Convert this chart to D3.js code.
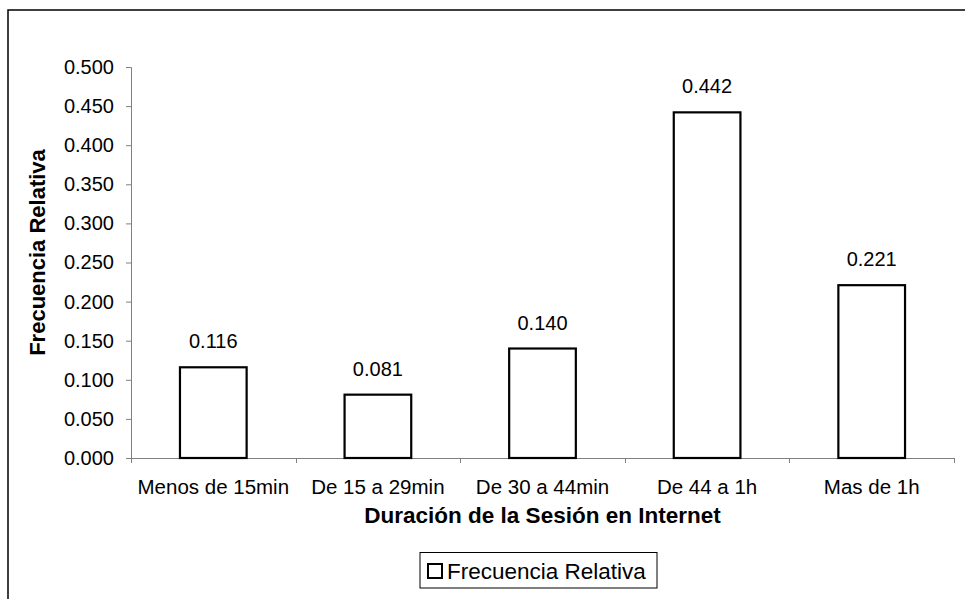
<!DOCTYPE html>
<html><head><meta charset="utf-8">
<script src="https://cdn.jsdelivr.net/npm/d3@7"></script>
<style>body{margin:0;background:#fff}svg{display:block;font-family:"Liberation Sans",Arial,sans-serif}</style>
</head><body>
<svg id="c" width="965" height="599"></svg>
<script>
const categories = ["Menos de 15min","De 15 a 29min","De 30 a 44min","De 44 a 1h","Mas de 1h"];
const values = [0.116, 0.081, 0.140, 0.442, 0.221];
const yTicks = [0,0.05,0.1,0.15,0.2,0.25,0.3,0.35,0.4,0.45,0.5];
const seriesName = "Frecuencia Relativa";
const xTitle = "Duración de la Sesión en Internet";
const yTitle = "Frecuencia Relativa";

const svg = d3.select("#c");
// outer frame
svg.append("rect").attr("x",8).attr("y",10).attr("width",1000).attr("height",700)
  .attr("fill","none").attr("stroke","#000").attr("stroke-width",1.5);

const L=131, R=954, T=67, B=458;
const x = d3.scaleBand().domain(categories).range([L,R]).paddingInner(0).paddingOuter(0);
const y = d3.scaleLinear().domain([0,0.5]).range([B,T]);
const bw = x.bandwidth()*0.405;

const yAxis = svg.append("g").attr("transform",`translate(${L},0)`)
  .call(d3.axisLeft(y).tickValues(yTicks).tickFormat(d3.format(".3f")).tickSize(5).tickPadding(12));
yAxis.select(".domain").attr("stroke","#808080");
yAxis.selectAll(".tick line").attr("stroke","#808080");
yAxis.selectAll("text").attr("font-size",20).attr("fill","#000").attr("font-family","Liberation Sans, Arial, sans-serif");

// x axis line and ticks at band boundaries
const xg = svg.append("g");
xg.append("line").attr("x1",L).attr("x2",R).attr("y1",B+0.5).attr("y2",B+0.5).attr("stroke","#808080");
const bounds = categories.map(c=>x(c)).concat([R]);
xg.selectAll(".bt").data(bounds).join("line").attr("x1",d=>Math.round(d)+0.5).attr("x2",d=>Math.round(d)+0.5)
  .attr("y1",B).attr("y2",B+5).attr("stroke","#808080");
xg.selectAll(".cl").data(categories).join("text")
  .attr("x",d=>x(d)+x.bandwidth()/2).attr("y",494).attr("text-anchor","middle")
  .attr("font-size",20.5).text(d=>d);

// bars
svg.selectAll(".bar").data(values).join("rect")
  .attr("x",(d,i)=>x(categories[i])+x.bandwidth()/2-bw/2).attr("width",bw)
  .attr("y",d=>y(d)).attr("height",d=>B-y(d))
  .attr("fill","#fff").attr("stroke","#000").attr("stroke-width",2.2);

// labels
svg.selectAll(".lbl").data(values).join("text")
  .attr("x",(d,i)=>x(categories[i])+x.bandwidth()/2).attr("y",d=>y(d)-19)
  .attr("text-anchor","middle").attr("font-size",20).text(d=>d3.format(".3f")(d));

// titles
svg.append("text").attr("x",(L+R)/2).attr("y",523).attr("text-anchor","middle")
  .attr("font-size",22.5).attr("font-weight","bold").text(xTitle);
svg.append("text").attr("transform",`translate(45,${(T+B)/2-10}) rotate(-90)`).attr("text-anchor","middle")
  .attr("font-size",22).attr("font-weight","bold").text(yTitle);

// legend
const lg = svg.append("g");
lg.append("rect").attr("x",420).attr("y",552.5).attr("width",237).attr("height",35.5)
  .attr("fill","#fff").attr("stroke","#000").attr("stroke-width",1);
lg.append("rect").attr("x",428).attr("y",564).attr("width",14).attr("height",14)
  .attr("fill","#fff").attr("stroke","#000").attr("stroke-width",2);
lg.append("text").attr("x",447).attr("y",579).attr("font-size",22.5).text(seriesName);
</script>
</body></html>
